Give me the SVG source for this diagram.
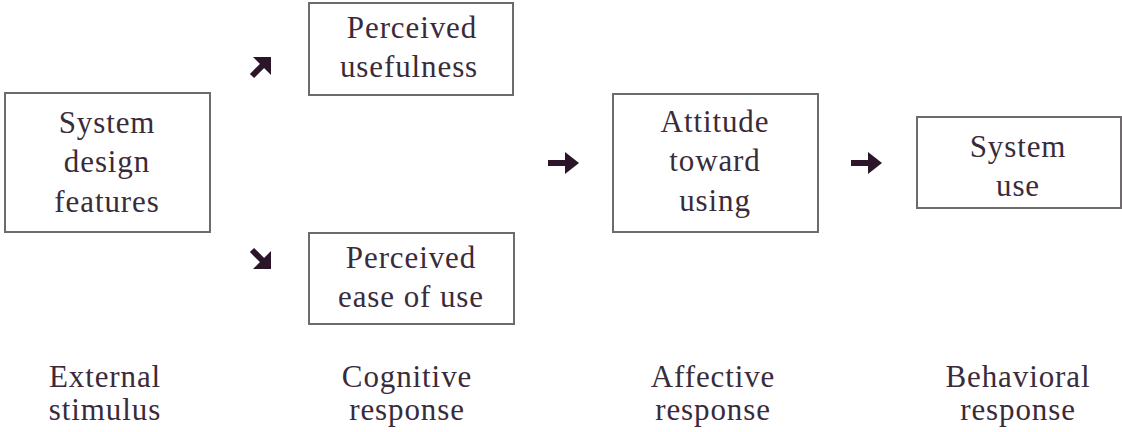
<svg xmlns="http://www.w3.org/2000/svg" width="1122" height="432" viewBox="0 0 1122 432">
<style>
.box{fill:#fff;stroke:#6e6a6e;stroke-width:2}
.t{font-family:"Liberation Serif","DejaVu Serif",serif;font-size:31px;letter-spacing:0.9px;fill:#3a2b3a;text-anchor:middle}
.arr{fill:none;stroke:#2a1628;stroke-width:6;stroke-linecap:butt}
.ah{fill:#2a1628}
</style>
<rect width="1122" height="432" fill="#fff"/>
<g id="n1"><rect class="box" x="5" y="93" width="205" height="139"/>
<text class="t" x="107" y="133">System</text><text class="t" x="107" y="172">design</text><text class="t" x="107" y="212">features</text></g>
<g id="n2"><rect class="box" x="309" y="3" width="204" height="92"/>
<text class="t" x="412" y="38">Perceived</text><text class="t" x="409" y="77">usefulness</text></g>
<g id="n3"><rect class="box" x="309" y="233" width="205" height="91"/>
<text class="t" x="411" y="268">Perceived</text><text class="t" x="411" y="307">ease of use</text></g>
<g id="n4"><rect class="box" x="613" y="94" width="205" height="138"/>
<text class="t" x="715" y="132">Attitude</text><text class="t" x="715" y="171">toward</text><text class="t" x="715" y="211">using</text></g>
<g id="n5"><rect class="box" x="917" y="117" width="204" height="91"/>
<text class="t" x="1018" y="157">System</text><text class="t" x="1018" y="196">use</text></g>
<g id="labels">
<text class="t" x="105" y="387">External</text><text class="t" x="105" y="420">stimulus</text>
<text class="t" x="407" y="387">Cognitive</text><text class="t" x="407" y="420">response</text>
<text class="t" x="713" y="387">Affective</text><text class="t" x="713" y="420">response</text>
<text class="t" x="1018" y="387">Behavioral</text><text class="t" x="1018" y="420">response</text>
</g>
<g id="connectors">
<path class="arr" d="M252 76 L265 63"/><polygon class="ah" points="271,57 271,75 253,57"/>
<path class="arr" d="M252 250 L265 263"/><polygon class="ah" points="271,269 271,251 253,269"/>
<path class="arr" d="M548 163 L566 163"/><polygon class="ah" points="579,163 565,152 565,174"/>
<path class="arr" d="M851 163 L869 163"/><polygon class="ah" points="882,163 868,152 868,174"/>
</g>
</svg>
